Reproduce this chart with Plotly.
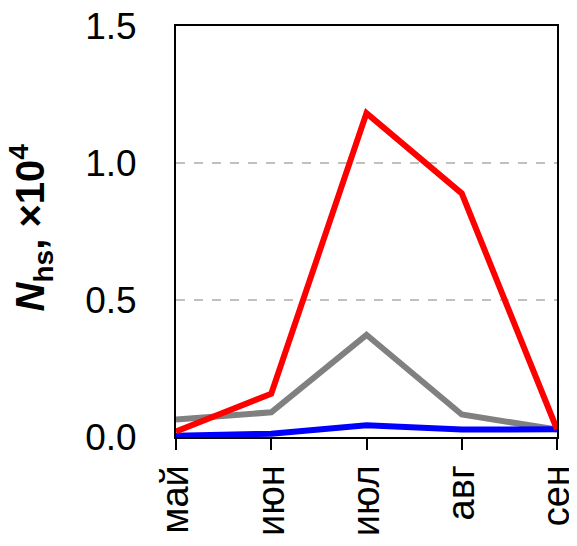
import plotly.graph_objects as go

months = ["май", "июн", "июл", "авг", "сен"]
red_vals = [0.02, 0.158, 1.182, 0.889, 0.028]
gray_vals = [0.064, 0.090, 0.373, 0.082, 0.027]
blue_vals = [0.005, 0.012, 0.043, 0.027, 0.028]
y_ticks = [0.0, 0.5, 1.0, 1.5]
y_tick_text = ["0.0", "0.5", "1.0", "1.5"]

xs = list(range(len(months)))
FONT = "Liberation Sans, Arial, sans-serif"
OFF = 8  # page body margin offset

fig = go.Figure()
for vals, col in [(gray_vals, "#808080"), (blue_vals, "#0000FF"), (red_vals, "#FF0000")]:
    fig.add_trace(go.Scatter(x=xs, y=vals, mode="lines",
                             line=dict(color=col, width=6), showlegend=False))

for g in [0.5, 1.0]:
    fig.add_shape(type="line", xref="paper", yref="y", x0=0, x1=1, y0=g, y1=g,
                  line=dict(color="#C0C0C0", width=2, dash="dash"), layer="below")

L, R, T, B = 176 - OFF, 577 - (557 - OFF), 26 - OFF, 546 - (437 - OFF)
fig.update_layout(
    width=577, height=546,
    margin=dict(l=L, r=R, t=T, b=B),
    paper_bgcolor="white", plot_bgcolor="white",
    font=dict(family=FONT, color="black"),
)
fig.update_xaxes(
    range=[0, 4], tickvals=xs, ticktext=months, tickangle=-90,
    tickfont=dict(size=38, family=FONT, color="black"),
    showgrid=False, zeroline=False, automargin=False,
    ticklabeloverflow="allow",
    showline=True, linecolor="black", linewidth=2, mirror=True,
    ticks="outside", ticklen=11, tickwidth=2, tickcolor="black",
)
fig.update_yaxes(
    range=[0, 1.5], tickvals=y_ticks, ticktext=y_tick_text,
    tickfont=dict(size=37, family=FONT, color="black"),
    showgrid=False, zeroline=False, automargin=False,
    ticklabeloverflow="allow",
    showline=True, linecolor="black", linewidth=2, mirror=True,
    ticks="outside", ticklen=30, tickcolor="rgba(0,0,0,0)",
)
plot_w = 577 - L - R
fig.add_annotation(
    text="<b><i>N</i><sub>hs</sub>, ×10<sup>4</sup></b>",
    xref="paper", yref="paper", x=(31 - OFF - L) / plot_w, y=0.51,
    xanchor="center", yanchor="middle", textangle=-90, showarrow=False,
    font=dict(size=40, family=FONT, color="black"),
)
fig.write_html("out.html")
